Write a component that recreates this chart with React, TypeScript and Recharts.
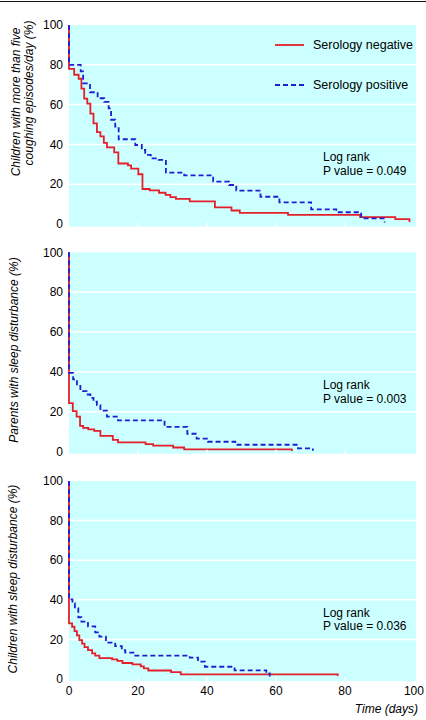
import React from "react";
import { LineChart, Line, XAxis, YAxis, CartesianGrid } from "recharts";

type Pt = [number, number];

// Kaplan-Meier style curves: [day, percent still affected]
const coughNegative: Pt[] = [
  [0, 100], [0, 78], [1.5, 75], [2.8, 73], [3.6, 68], [4.4, 63], [5.3, 60.5],
  [6.2, 55.5], [7.1, 50.6], [8.1, 46.2], [9.1, 44], [10.1, 40.8], [11, 38.5],
  [13.1, 36], [14.3, 30.4], [17.1, 29.5], [18, 27.8], [20.1, 25], [21.3, 17.6],
  [23.4, 16.9], [26.1, 15.7], [28, 14.6], [29.4, 13.5], [31, 12.6], [35, 11.4],
  [42.3, 8.4], [47.1, 6.8], [49.5, 5.6], [63.5, 4.6], [84.4, 3.5], [94.6, 2.5],
  [98.7, 1],
];
const coughPositive: Pt[] = [
  [0, 100], [0, 80], [3.4, 76.7], [4.1, 70.7], [6.1, 66.2], [8.3, 63.2],
  [10.2, 61.4], [11.5, 58.1], [12.2, 52.4], [13.4, 48.9], [14.4, 42.6],
  [19.2, 39.7], [21.1, 37.2], [22.1, 34.7], [23.7, 33], [26, 32.2], [28.1, 25.8],
  [33.4, 24.4], [41.8, 21.3], [46.4, 19.6], [48.5, 16.8], [55.5, 13.7],
  [61, 10.9], [70.2, 7.4], [77.5, 5.9], [84.7, 2.8], [91.5, 0.8],
];
const parentNegative: Pt[] = [
  [0, 100], [0, 24.4], [1.1, 20.4], [2.2, 17.6], [3.2, 13], [4.1, 12],
  [5.6, 11.2], [7.3, 10.4], [9.1, 7.9], [12.7, 5.9], [14.2, 4.7], [22.2, 3.8],
  [24.4, 3], [30.2, 2.1], [33.4, 1.2], [64.6, 0.4],
];
const parentPositive: Pt[] = [
  [0, 100], [0, 39.5], [1.2, 36.3], [2.3, 33], [3.3, 30.4], [5.1, 28.7],
  [6.2, 27], [7.1, 25.1], [8.1, 23.4], [9.1, 20.6], [11, 17.6], [14.2, 15.7],
  [27.7, 12.5], [34.3, 9], [37, 6.6], [40.3, 5], [48.2, 3.5], [66.4, 1.7],
  [70.7, 0.5],
];
const childNegative: Pt[] = [
  [0, 100], [0, 28.1], [0.9, 26.4], [1.6, 24.2], [2.3, 22], [3, 19.6],
  [3.8, 17.9], [4.5, 16.1], [5.5, 14.6], [6.7, 13], [7.6, 11.8], [8.8, 10.6],
  [12.5, 9.9], [14, 9.2], [15.5, 8.1], [18.4, 7.4], [20.8, 6.4], [21.7, 5.4],
  [23, 4.3], [29.6, 3.5], [32.4, 2.3], [77.9, 1.5],
];
const childPositive: Pt[] = [
  [0, 100], [0, 40.2], [1, 38.3], [1.7, 35.7], [2.7, 31.2], [3.6, 29],
  [5.5, 26.6], [7.6, 23.6], [8.8, 21.4], [10.7, 18.4], [13.4, 16.6],
  [15.3, 14.6], [16.3, 13.3], [19.2, 11.8], [35, 10.8], [37.4, 8.8],
  [39.4, 6.2], [48, 4.4], [57.2, 2.8], [58.2, 1.3],
];

const DAY_TICKS = [0, 20, 40, 60, 80, 100];
const INNER_DAY_TICKS = [20, 40, 60, 80];
const PCT_TICKS = [0, 20, 40, 60, 80, 100];
const GRID_PCT = [20, 40, 60, 80];
const SERIES_NAMES = ["Serology negative", "Serology positive"];
const P_VALUES = ["0.049", "0.003", "0.036"];

const RED = "#e3202a";
const BLUE = "#1f1fcf";
const CYAN = "#ccffff";
const FONT = '"Liberation Sans", Arial, Helvetica, sans-serif';

const toRows = (pts: Pt[]) => pts.map(([t, v]) => ({ t, v }));

function InnerTick(props: any) {
  const { x, y, payload } = props;
  const v = payload.value;
  if (!(v > 0 && v < 100)) return <g />;
  return <line x1={x} x2={x} y1={y - 8} y2={y - 4} stroke="#fff" strokeWidth={1.5} />;
}

function DayTick(props: any) {
  const { x, y, payload } = props;
  const v = payload.value;
  const inner = v > 0 && v < 100;
  return (
    <g>
      {inner && (
        <line x1={x} x2={x} y1={y - 8} y2={y - 4} stroke="#fff" strokeWidth={1.5} />
      )}
      <text x={x} y={y} dy={10} textAnchor="middle" fontSize={12} fill="#000" fontFamily={FONT}>
        {v}
      </text>
    </g>
  );
}

interface PanelProps {
  top: number;
  height: number;
  marginTop: number;
  marginBottom: number;
  yMin: number;
  negative: Pt[];
  positive: Pt[];
  showDays?: boolean;
}

function Panel({ top, height, marginTop, marginBottom, yMin, negative, positive, showDays }: PanelProps) {
  return (
    <div style={{ position: "absolute", left: 0, top }}>
      <LineChart
        width={426}
        height={height}
        margin={{ top: marginTop, right: 10, bottom: marginBottom, left: 0 }}
        style={{ overflow: "visible" }}
      >
        <CartesianGrid
          vertical={false}
          horizontalValues={GRID_PCT}
          stroke="#fff"
          strokeWidth={1.5}
          fill={CYAN}
          fillOpacity={1}
        />
        <XAxis
          type="number"
          dataKey="t"
          domain={[0, 100.6]}
          ticks={showDays ? DAY_TICKS : INNER_DAY_TICKS}
          interval={0}
          axisLine={false}
          tickLine={false}
          tickSize={0}
          tickMargin={4}
          height={showDays ? 20 : 1}
          tick={showDays ? <DayTick /> : <InnerTick />}
        />
        <YAxis
          type="number"
          domain={[yMin, 100]}
          ticks={PCT_TICKS}
          interval={0}
          axisLine={false}
          tickLine={false}
          tickSize={0}
          tickMargin={6}
          width={69}
          tick={{ fontSize: 12, fill: "#000", fontFamily: FONT }}
        />
        <Line
          data={toRows(negative)}
          dataKey="v"
          type="stepAfter"
          stroke={RED}
          strokeWidth={1.8}
          dot={false}
          isAnimationActive={false}
        />
        <Line
          data={toRows(positive)}
          dataKey="v"
          type="stepAfter"
          stroke={BLUE}
          strokeWidth={1.8}
          strokeDasharray="5 3"
          dot={false}
          isAnimationActive={false}
        />
      </LineChart>
    </div>
  );
}

const rotated = (cx: number, cy: number): React.CSSProperties => ({
  position: "absolute",
  left: cx,
  top: cy,
  transform: "translate(-50%, -50%) rotate(-90deg)",
  whiteSpace: "nowrap",
  fontStyle: "italic",
  fontSize: 12,
});

const logRank = (top: number): React.CSSProperties => ({
  position: "absolute",
  left: 323,
  top,
  fontSize: 12,
  lineHeight: "13.5px",
});

export default function App() {
  return (
    <div
      style={{
        position: "absolute",
        left: 0,
        top: 0,
        width: 426,
        height: 720,
        background: "#fff",
        fontFamily: FONT,
        color: "#000",
      }}
    >
      <div style={{ position: "absolute", left: 0, top: 1, width: 426, height: 1, background: "#111" }} />

      <Panel top={0} height={235} marginTop={25} marginBottom={7.5} yMin={-1.25}
        negative={coughNegative} positive={coughPositive} />
      <Panel top={235} height={235} marginTop={17.3} marginBottom={15.3} yMin={-1}
        negative={parentNegative} positive={parentPositive} />
      <Panel top={470} height={250} marginTop={11} marginBottom={19} yMin={-1}
        negative={childNegative} positive={childPositive} showDays />

      {/* legend */}
      <svg style={{ position: "absolute", left: 275, top: 40 }} width={30} height={50}>
        <line x1={0} x2={29} y1={5} y2={5} stroke={RED} strokeWidth={1.8} />
        <line x1={0} x2={29} y1={45} y2={45} stroke={BLUE} strokeWidth={1.8} strokeDasharray="5 3" />
      </svg>
      <div style={{ position: "absolute", left: 313, top: 38, fontSize: 12.5, lineHeight: "14px" }}>
        {SERIES_NAMES[0]}
      </div>
      <div style={{ position: "absolute", left: 313, top: 78, fontSize: 12.5, lineHeight: "14px" }}>
        {SERIES_NAMES[1]}
      </div>

      {/* y axis titles */}
      <div style={rotated(15.5, 101.7)}>Children with more than five</div>
      <div style={rotated(29, 93)}>coughing episodes/day (%)</div>
      <div style={rotated(13.5, 350)}>Parents with sleep disturbance (%)</div>
      <div style={rotated(12.5, 579)}>Children with sleep disturbance (%)</div>

      {/* test statistics */}
      <div style={logRank(151)}>
        Log rank
        <br />P value = {P_VALUES[0]}
      </div>
      <div style={logRank(379)}>
        Log rank
        <br />P value = {P_VALUES[1]}
      </div>
      <div style={logRank(606.5)}>
        Log rank
        <br />P value = {P_VALUES[2]}
      </div>

      <div style={{ position: "absolute", right: 8, top: 702, fontSize: 12, fontStyle: "italic", lineHeight: "14px" }}>
        Time (days)
      </div>
    </div>
  );
}
